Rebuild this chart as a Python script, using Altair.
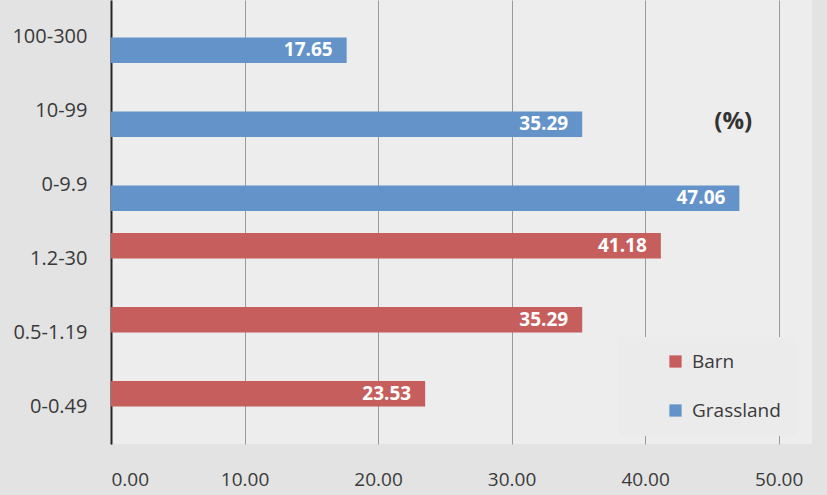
import altair as alt
import pandas as pd

categories = ["100-300", "10-99", "0-9.9", "1.2-30", "0.5-1.19", "0-0.49"]
series = ["Grassland", "Grassland", "Grassland", "Barn", "Barn", "Barn"]
values = [17.65, 35.29, 47.06, 41.18, 35.29, 23.53]
series_order = ["Barn", "Grassland"]
series_colors = ["#c55e5c", "#6393c9"]
x_ticks = [0, 10, 20, 30, 40, 50]

df = pd.DataFrame({"cat": categories, "series": series, "value": values})
df["label"] = df["value"].map(lambda v: f"{v:.2f}")
note = pd.DataFrame({"cat": ["10-99"], "value": [46.6], "txt": ["(%)"]})

FONT = "Open Sans"

y_enc = alt.Y("cat:N", sort=categories, title=None,
              scale=alt.Scale(paddingInner=0.3, paddingOuter=0.15),
              axis=alt.Axis(labelFontSize=20, labelColor="#3a3a3a", labelPadding=24,
                            ticks=False, domainColor="#262626", domainWidth=2,
                            labelFont=FONT))
x_enc = alt.X("value:Q", title=None,
              scale=alt.Scale(domain=[0, 52.5], nice=False),
              axis=alt.Axis(values=x_ticks, format=".2f", labelFontSize=19,
                            labelColor="#3a3a3a", labelPadding=26, ticks=False,
                            domain=False, grid=True, gridColor="#9a9a9a",
                            labelFont=FONT))
yoff = alt.YOffset("series:N", sort=series_order,
                   scale=alt.Scale(domain=series_order, paddingInner=0.04))

bars = alt.Chart(df).mark_bar().encode(
    y=y_enc, x=x_enc, yOffset=yoff,
    color=alt.Color("series:N",
                    scale=alt.Scale(domain=series_order, range=series_colors),
                    legend=alt.Legend(title=None, orient="none", legendX=508, legendY=337,
                                      fillColor="#ebebeb", padding=15, symbolOffset=32,
                                      symbolType="square", symbolSize=150, labelFontSize=19,
                                      labelColor="#3a3a3a", rowPadding=29, labelFont=FONT,
                                      labelOffset=7, symbolStrokeWidth=0)),
)

labels = alt.Chart(df).mark_text(align="right", dx=-14, color="white", fontWeight="bold",
                                  fontSize=19, font=FONT).encode(
    y=alt.Y("cat:N", sort=categories), x="value:Q", yOffset=yoff, text="label:N")

ann = alt.Chart(note).mark_text(fontWeight="bold", fontSize=24, color="#333333", dy=11,
                               font=FONT).encode(
    y=alt.Y("cat:N", sort=categories), x="value:Q", text="txt:N")

chart = alt.layer(bars, labels, ann).properties(
    width=701, height=444,
    autosize=alt.AutoSizeParams(type="none"),
    padding={"left": 111, "top": 0, "right": 15, "bottom": 51},
    background="#e3e3e3",
).configure_view(stroke=None, fill="#ededed")

chart.save("out.html", embed_options={"renderer": "svg", "actions": False})
